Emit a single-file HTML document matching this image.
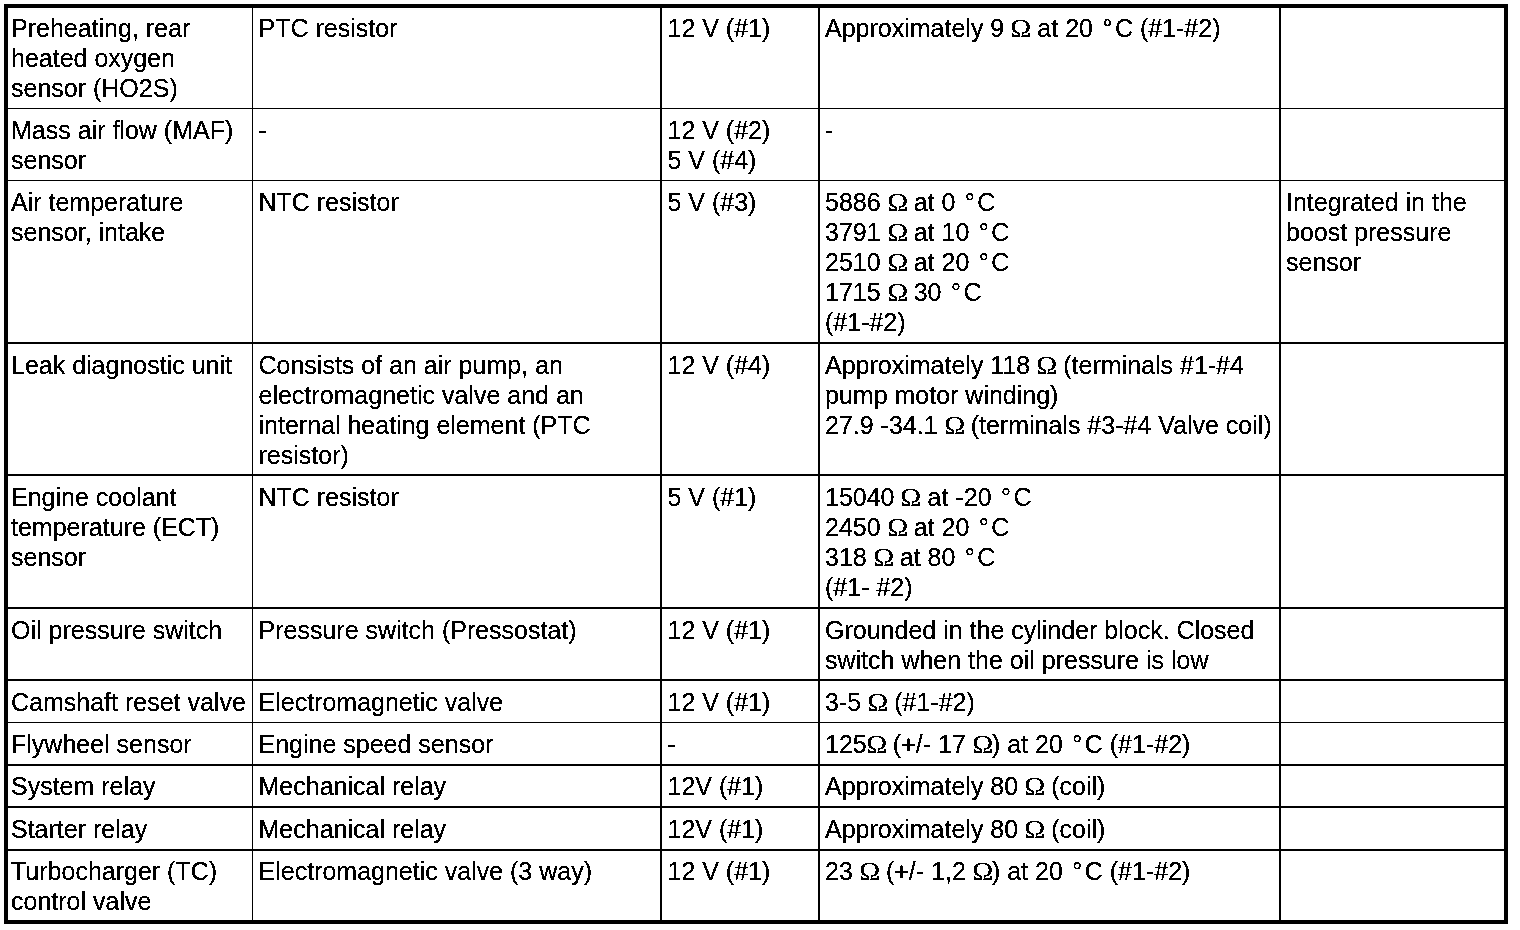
<!DOCTYPE html>
<html lang="en">
<head>
<meta charset="utf-8">
<title>Component specifications</title>
<style>
html,body{margin:0;padding:0;background:#fff;}
body{width:1520px;height:930px;position:relative;overflow:hidden;
  font-family:"Liberation Sans",Arial,Helvetica,sans-serif;font-size:25px;line-height:30px;color:#000;}
.frame{position:absolute;left:4px;top:4px;width:1504px;height:920px;box-sizing:border-box;border:4px solid #000;}
.v,.h{position:absolute;background:#000;}
.v{top:8px;height:912px;}
.h{left:8px;width:1496px;}
.t{position:absolute;white-space:nowrap;margin:0;}
.c1{left:11px;}
.c2{left:258.5px;}
.c3{left:667.5px;}
.c4{left:825px;}
.c5{left:1286px;}
.d{padding:0 2.5px;}
.o{font-family:"Liberation Serif","DejaVu Serif",serif;display:inline-block;width:19.2px;text-align:center;line-height:0;transform:scaleX(1.12);}
#txt{position:absolute;left:0;top:0;width:1520px;height:930px;filter:url(#bw);}
</style>
</head>
<body>
<div class="frame"></div>

<div class="v" style="left:252px;width:1px"></div>
<div class="v" style="left:660px;width:2px"></div>
<div class="v" style="left:818px;width:2px"></div>
<div class="v" style="left:1279px;width:2px"></div>

<div class="h" style="top:108px;height:1px"></div>
<div class="h" style="top:180px;height:1px"></div>
<div class="h" style="top:342px;height:2px"></div>
<div class="h" style="top:474px;height:2px"></div>
<div class="h" style="top:607px;height:2px"></div>
<div class="h" style="top:679px;height:2px"></div>
<div class="h" style="top:722px;height:1px"></div>
<div class="h" style="top:764px;height:2px"></div>
<div class="h" style="top:806px;height:2px"></div>
<div class="h" style="top:849px;height:2px"></div>

<svg width="0" height="0" style="position:absolute"><filter id="bw" x="0" y="0" width="100%" height="100%" color-interpolation-filters="sRGB"><feComponentTransfer><feFuncA type="discrete" tableValues="0 1 1"/></feComponentTransfer></filter></svg>
<div id="txt">
<!-- row 1 -->
<div class="t c1" style="top:13px">Preheating, rear<br>heated oxygen<br>sensor (HO2S)</div>
<div class="t c2" style="top:13px">PTC resistor</div>
<div class="t c3" style="top:13px">12 V (#1)</div>
<div class="t c4" style="top:13px">Approximately 9 <span class="o">Ω</span> at 20 <span class="d">°</span>C (#1-#2)</div>

<!-- row 2 -->
<div class="t c1" style="top:115px">Mass air flow (MAF)<br>sensor</div>
<div class="t c2" style="top:115px">-</div>
<div class="t c3" style="top:115px">12 V (#2)<br>5 V (#4)</div>
<div class="t c4" style="top:115px">-</div>

<!-- row 3 -->
<div class="t c1" style="top:187px">Air temperature<br>sensor, intake</div>
<div class="t c2" style="top:187px">NTC resistor</div>
<div class="t c3" style="top:187px">5 V (#3)</div>
<div class="t c4" style="top:187px">5886 <span class="o">Ω</span> at 0 <span class="d">°</span>C<br>3791 <span class="o">Ω</span> at 10 <span class="d">°</span>C<br>2510 <span class="o">Ω</span> at 20 <span class="d">°</span>C<br>1715 <span class="o">Ω</span> 30 <span class="d">°</span>C<br>(#1-#2)</div>
<div class="t c5" style="top:187px">Integrated in the<br>boost pressure<br>sensor</div>

<!-- row 4 -->
<div class="t c1" style="top:350px">Leak diagnostic unit</div>
<div class="t c2" style="top:350px">Consists of an air pump, an<br>electromagnetic valve and an<br>internal heating element (PTC<br>resistor)</div>
<div class="t c3" style="top:350px">12 V (#4)</div>
<div class="t c4" style="top:350px">Approximately 118 <span class="o">Ω</span> (terminals #1-#4<br>pump motor winding)<br>27.9 -34.1 <span class="o">Ω</span> (terminals #3-#4 Valve coil)</div>

<!-- row 5 -->
<div class="t c1" style="top:482px">Engine coolant<br>temperature (ECT)<br>sensor</div>
<div class="t c2" style="top:482px">NTC resistor</div>
<div class="t c3" style="top:482px">5 V (#1)</div>
<div class="t c4" style="top:482px">15040 <span class="o">Ω</span> at -20 <span class="d">°</span>C<br>2450 <span class="o">Ω</span> at 20 <span class="d">°</span>C<br>318 <span class="o">Ω</span> at 80 <span class="d">°</span>C<br>(#1- #2)</div>

<!-- row 6 -->
<div class="t c1" style="top:615px">Oil pressure switch</div>
<div class="t c2" style="top:615px">Pressure switch (Pressostat)</div>
<div class="t c3" style="top:615px">12 V (#1)</div>
<div class="t c4" style="top:615px">Grounded in the cylinder block. Closed<br>switch when the oil pressure is low</div>

<!-- row 7 -->
<div class="t c1" style="top:687px">Camshaft reset valve</div>
<div class="t c2" style="top:687px">Electromagnetic valve</div>
<div class="t c3" style="top:687px">12 V (#1)</div>
<div class="t c4" style="top:687px">3-5 <span class="o">Ω</span> (#1-#2)</div>

<!-- row 8 -->
<div class="t c1" style="top:729px">Flywheel sensor</div>
<div class="t c2" style="top:729px">Engine speed sensor</div>
<div class="t c3" style="top:729px">-</div>
<div class="t c4" style="top:729px">125<span class="o">Ω</span> (+/- 17 <span class="o">Ω</span>) at 20 <span class="d">°</span>C (#1-#2)</div>

<!-- row 9 -->
<div class="t c1" style="top:771px">System relay</div>
<div class="t c2" style="top:771px">Mechanical relay</div>
<div class="t c3" style="top:771px">12V (#1)</div>
<div class="t c4" style="top:771px">Approximately 80 <span class="o">Ω</span> (coil)</div>

<!-- row 10 -->
<div class="t c1" style="top:814px">Starter relay</div>
<div class="t c2" style="top:814px">Mechanical relay</div>
<div class="t c3" style="top:814px">12V (#1)</div>
<div class="t c4" style="top:814px">Approximately 80 <span class="o">Ω</span> (coil)</div>

<!-- row 11 -->
<div class="t c1" style="top:856px">Turbocharger (TC)<br>control valve</div>
<div class="t c2" style="top:856px">Electromagnetic valve (3 way)</div>
<div class="t c3" style="top:856px">12 V (#1)</div>
<div class="t c4" style="top:856px">23 <span class="o">Ω</span> (+/- 1,2 <span class="o">Ω</span>) at 20 <span class="d">°</span>C (#1-#2)</div>
</div>
</body>
</html>
